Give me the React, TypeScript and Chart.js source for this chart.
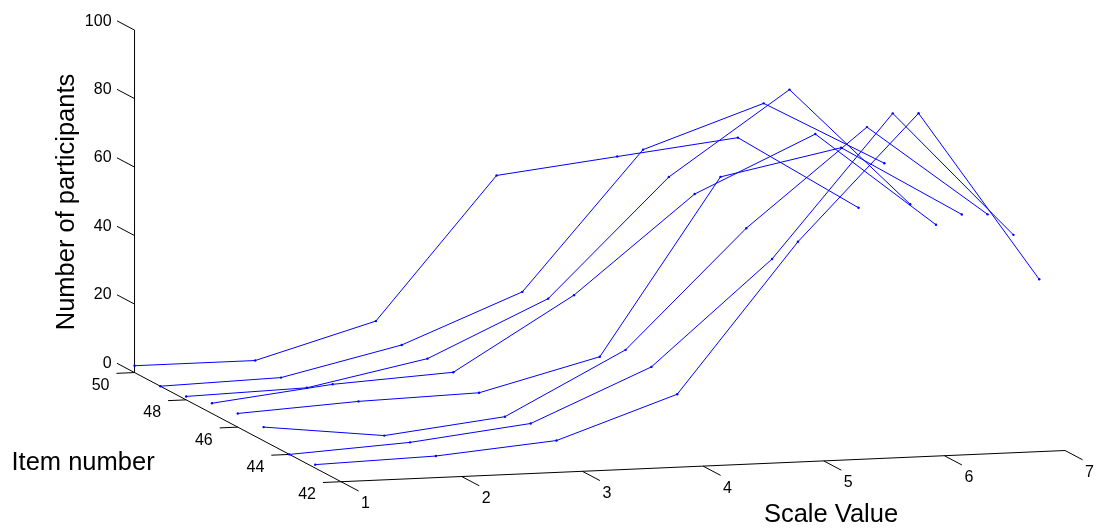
import { useEffect, useRef } from 'react';
import { Chart, registerables } from 'chart.js';

Chart.register(...registerables);

// ---- data ----
const scaleValues = [1, 2, 3, 4, 5, 6, 7];
const itemNumbers = [43, 44, 45, 46, 47, 48, 49, 50];
const item43 = [1, 2, 5, 17, 60, 96, 46];
const item44 = [0, 2, 6, 21, 51, 92, 55];
const item45 = [4, 0, 4, 22, 56, 84, 57];
const item46 = [4, 6, 7, 16, 67, 74, 53];
const item47 = [3, 7, 9, 30, 58, 74, 46];
const item48 = [1, 2, 9, 25, 59, 83, 48];
const item49 = [0, 1, 9, 23, 63, 75, 56];
const item50 = [2, 2, 12, 53, 57, 61, 39];
const seriesByItem = [item43, item44, item45, item46, item47, item48, item49, item50];

const zTicks = [0, 20, 40, 60, 80, 100];
const itemTicks = [42, 44, 46, 48, 50];
const scaleTicks = [1, 2, 3, 4, 5, 6, 7];
const itemRange = [42, 50];
const scaleRange = [1, 7];
const zRange = [0, 100];

// ---- view (oblique projection of the 3-D box onto the page plane) ----
const ORIGIN = { x: 339.5, y: 485 }; // (scale 1, item 42, z 0)
const E_S = { x: 121.55, y: -5.28 };
const E_I = { x: -26.0, y: -13.85 };
const E_Z = { x: 0, y: -3.477 };

function project(s: number, item: number, z: number) {
  return {
    x: ORIGIN.x + (s - 1) * E_S.x + (item - 42) * E_I.x + z * E_Z.x,
    y: ORIGIN.y + (s - 1) * E_S.y + (item - 42) * E_I.y + z * E_Z.y,
  };
}

const FONT = '"Liberation Sans", Arial, Helvetica, sans-serif';
const LINE_BLUE = '#0000ff';

const axes3dPlugin = {
  id: 'axes3d',
  beforeDatasetsDraw(chart: any) {
    const ctx: CanvasRenderingContext2D = chart.ctx;
    const xs = chart.scales.x;
    const ys = chart.scales.y;
    const P = (s: number, it: number, z: number) => {
      const p = project(s, it, z);
      return { x: xs.getPixelForValue(p.x), y: ys.getPixelForValue(p.y) };
    };
    const line = (a: any, b: any) => {
      ctx.beginPath();
      ctx.moveTo(a.x, a.y);
      ctx.lineTo(b.x, b.y);
      ctx.stroke();
    };
    ctx.save();
    ctx.strokeStyle = '#000';
    ctx.lineWidth = 1;
    ctx.fillStyle = '#000';

    // z axis at scale 1, item 50
    line(P(scaleRange[0], itemRange[1], zRange[0]), P(scaleRange[0], itemRange[1], zRange[1]));
    // item axis at scale 1, z 0
    line(P(scaleRange[0], itemRange[0], 0), P(scaleRange[0], itemRange[1], 0));
    // scale axis at item 42, z 0
    line(P(scaleRange[0], itemRange[0], 0), P(scaleRange[1], itemRange[0], 0));

    ctx.font = `16px ${FONT}`;
    // z ticks
    ctx.textAlign = 'right';
    ctx.textBaseline = 'middle';
    zTicks.forEach((z) => {
      const a = P(1, 50, z);
      const b = P(1, 50.68, z);
      line(a, b);
      ctx.fillText(String(z), a.x - 23, a.y - 9);
    });
    // item ticks
    ctx.textAlign = 'center';
    itemTicks.forEach((it) => {
      const a = P(1, it, 0);
      const b = P(0.85, it, 0);
      line(a, b);
      ctx.fillText(String(it), a.x - 34, a.y + 13);
    });
    // scale ticks
    scaleTicks.forEach((s) => {
      const a = P(s, 42, 0);
      const b = P(s, 41.32, 0);
      line(a, b);
      ctx.fillText(String(s), a.x + 24.5, a.y + 22);
    });

    // axis titles
    ctx.font = `25.5px ${FONT}`;
    ctx.textBaseline = 'alphabetic';
    ctx.textAlign = 'left';
    ctx.fillText('Item number', 11.5, 469.5);
    ctx.textAlign = 'center';
    ctx.fillText('Scale Value', 831, 521.5);
    ctx.save();
    ctx.translate(73.5, 202);
    ctx.rotate(-Math.PI / 2);
    ctx.fillText('Number of participants', 0, 0);
    ctx.restore();

    ctx.restore();
  },
};

export default function App() {
  const canvasRef = useRef<HTMLCanvasElement>(null);

  useEffect(() => {
    const canvas = canvasRef.current;
    if (!canvas) return;
    const datasets = itemNumbers.map((item, k) => ({
      label: `Item ${item}`,
      data: scaleValues.map((s, j) => project(s, item, seriesByItem[k][j])),
      showLine: true,
      borderColor: LINE_BLUE,
      backgroundColor: LINE_BLUE,
      borderWidth: 1,
      pointRadius: 1.2,
      pointBorderWidth: 0,
      pointBackgroundColor: LINE_BLUE,
      tension: 0,
      clip: false as any,
    }));
    const chart = new Chart(canvas, {
      type: 'scatter',
      data: { datasets },
      options: {
        animation: false,
        responsive: false,
        maintainAspectRatio: false,
        layout: { padding: 0 },
        plugins: { legend: { display: false }, tooltip: { enabled: false }, title: { display: false } },
        scales: {
          x: { type: 'linear', min: 0, max: 1102, display: false },
          y: { type: 'linear', min: 0, max: 532, reverse: true, display: false },
        },
      },
      plugins: [axes3dPlugin],
    });
    return () => chart.destroy();
  }, []);

  return (
    <div style={{ position: 'fixed', left: 0, top: 0, width: 1102, height: 532, background: '#fff' }}>
      <canvas ref={canvasRef} width={1102} height={532} style={{ display: 'block', width: 1102, height: 532 }} />
    </div>
  );
}
